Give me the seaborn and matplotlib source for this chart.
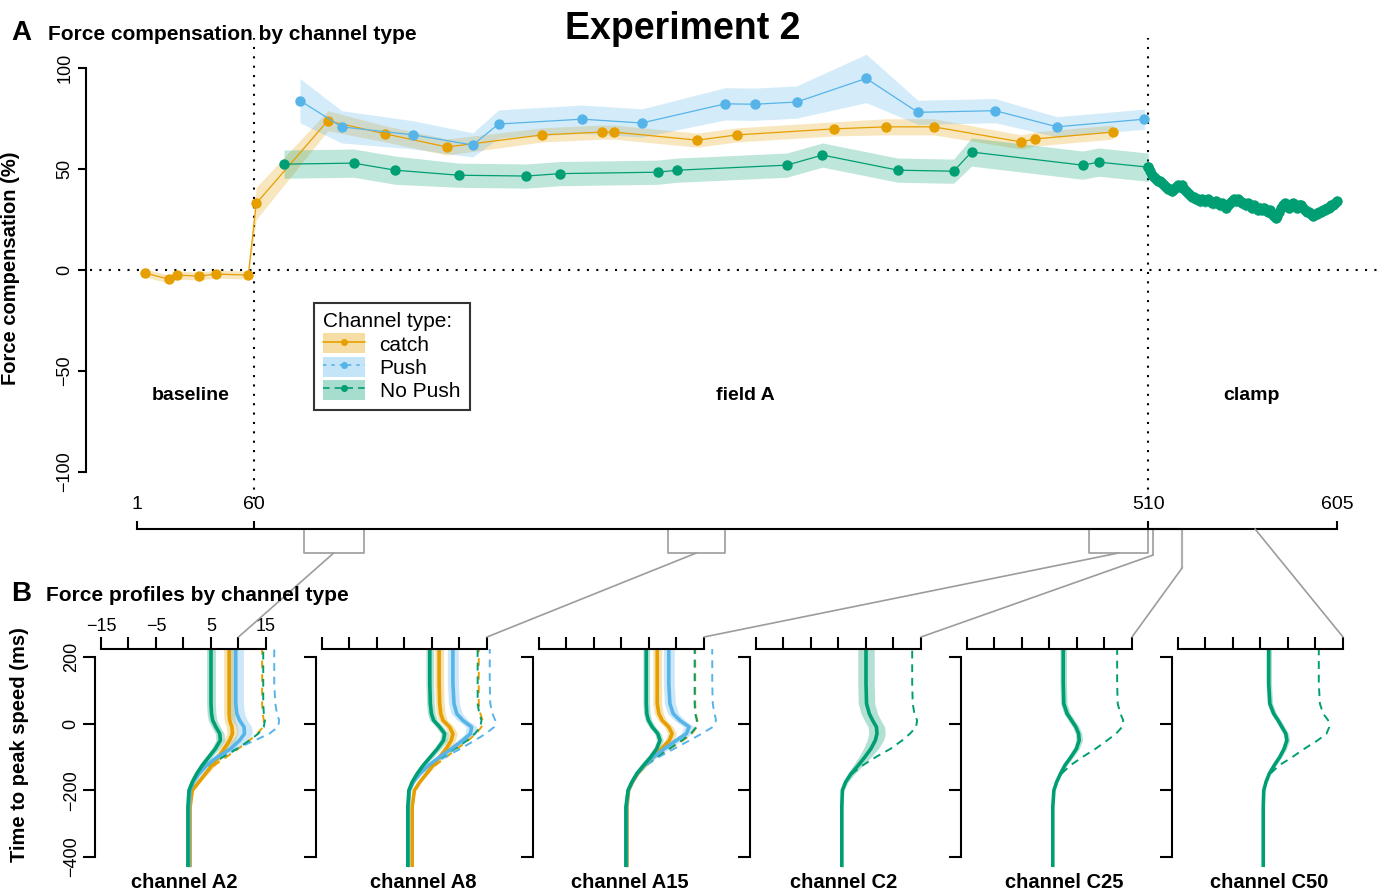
import numpy as np
import seaborn as sns
import matplotlib.pyplot as plt
from matplotlib.lines import Line2D
from matplotlib.patches import Patch, ConnectionPatch
import matplotlib.transforms as mtransforms

# ---------------- Panel A data: force compensation (%) per channel trial ----------------
catch_trial = [5, 17, 21, 32, 41, 57, 61, 97, 126, 157, 205, 235, 241, 283, 303, 352, 378, 402, 446, 453, 492]
catch_fc = [-1.5, -4.5, -2.5, -3, -2, -2.5, 33, 74, 67.5, 61, 67, 68.4, 68.4, 64.4, 67, 70, 71, 71, 63.5, 65, 68.4]
catch_ci = [2, 2, 2, 2, 2, 2, 8, 5, 4, 4, 3.5, 3.5, 3.5, 3.5, 3.5, 3.5, 4, 4, 3.5, 3.5, 3.5]

push_trial = [83, 104, 140, 170, 183, 225, 255, 297, 312, 333, 368, 394, 433, 464, 508]
push_fc = [84, 71, 67, 62, 72.4, 74.8, 72.9, 82.4, 82.2, 83.3, 95, 78.2, 79, 71, 74.8]
push_ci = [11, 8, 7, 6, 7, 7, 7, 8, 8, 8, 12, 6, 6, 5, 5]

nopush_trial = [75, 110, 131, 163, 197, 214, 263, 273, 328, 346, 384, 412, 421, 477, 485, 510]
nopush_fc = [52.5, 53, 49.5, 47, 46.6, 47.8, 48.5, 49.5, 52, 57, 49.5, 49, 58.5, 52, 53.5, 51]
nopush_ci = [7, 7, 7, 6, 6, 6, 6, 6, 6, 6, 6, 6, 7, 7, 7, 7]

# clamp phase, trials 510..605 (No Push channels on every trial)
clamp_trial = np.arange(510, 606)
clamp_fc = [51, 49, 47, 46, 45, 44, 44, 43, 42, 41, 40,
            40, 39, 40, 41, 42, 41, 42, 40, 39, 38,
            37, 36, 36, 35, 35, 34, 35, 34, 34, 35,
            34, 33, 33, 34, 33, 32, 33, 32, 31, 32,
            33, 34, 35, 34, 35, 34, 33, 33, 32, 33,
            32, 31, 32, 31, 30, 31, 30, 31, 30, 29,
            30, 28, 27, 26, 27, 29, 31, 32, 33, 32,
            31, 32, 33, 32, 31, 32, 32, 31, 30, 29,
            29, 28, 27, 28, 28, 29, 29, 30, 30, 31,
            31, 32, 32, 33, 34]
clamp_ci = 3

phase_ticks = [1, 60, 510, 605]

# ---------------- Panel B data: force profiles (x = force, y = time to peak speed) ----------------
profile_t = [-430, -250, -200, -175, -150, -125, -100, -75, -50, -30, -10, 10, 30, 60, 120, 224]
# relative size of the shaded band along the movement
band_shape = [0.15, 0.15, 0.2, 0.3, 0.45, 0.6, 0.75, 0.9, 1, 1, 1, 1, 1, 1, 1, 1]

a2_catch = [1.2, 1.2, 1.6, 2.8, 4.0, 5.2, 6.4, 7.4, 8.4, 8.9, 8.8, 8.4, 8.3, 8.3, 8.3, 8.3]
a2_push = [1.0, 1.0, 1.2, 1.8, 2.8, 4.2, 6.2, 8.6, 10.2, 11.1, 11.0, 10.2, 9.7, 9.5, 9.5, 9.5]
a2_nopush = [0.8, 0.8, 1.0, 1.6, 2.4, 3.4, 4.6, 5.8, 6.7, 6.6, 5.9, 5.3, 5.1, 5.0, 5.0, 5.0]
a2_catch_d = [1.2, 1.2, 1.6, 2.8, 4.0, 5.6, 7.8, 10.0, 12.0, 13.4, 14.5, 14.6, 14.4, 14.3, 14.3, 14.3]
a2_push_d = [1.0, 1.0, 1.2, 1.8, 2.8, 4.4, 6.6, 9.6, 13.0, 15.6, 17.2, 17.4, 17.0, 16.7, 16.5, 16.5]
a2_nopush_d = [0.8, 0.8, 1.0, 1.6, 2.4, 4.6, 7.2, 9.8, 12.0, 13.6, 14.6, 14.8, 14.6, 14.5, 14.5, 14.5]

a8_catch = [1.4, 1.4, 1.8, 2.8, 4.0, 5.2, 6.4, 7.6, 8.5, 8.8, 8.2, 7.0, 6.6, 6.4, 6.3, 6.3]
a8_push = [0.7, 0.7, 0.9, 1.6, 2.8, 4.4, 6.4, 8.6, 10.6, 12.0, 12.2, 10.6, 9.5, 9.0, 8.8, 8.8]
a8_nopush = [0.6, 0.6, 0.8, 1.4, 2.3, 3.4, 4.7, 6.0, 7.1, 7.3, 6.4, 5.3, 4.9, 4.7, 4.6, 4.6]
a8_catch_d = [1.4, 1.4, 1.8, 2.8, 4.0, 5.6, 7.6, 9.6, 11.6, 13.0, 14.0, 14.2, 13.8, 13.5, 13.5, 13.5]
a8_push_d = [0.7, 0.7, 0.9, 1.6, 2.8, 4.8, 7.4, 10.2, 12.8, 14.8, 16.3, 16.5, 16.0, 15.6, 15.5, 15.5]
a8_nopush_d = [0.6, 0.6, 0.8, 1.4, 2.3, 4.4, 6.8, 9.2, 11.4, 12.8, 13.8, 14.0, 13.6, 13.3, 13.3, 13.3]

a15_catch = [1.0, 1.0, 1.3, 2.0, 2.9, 4.2, 5.7, 7.3, 8.7, 9.2, 8.6, 7.4, 6.8, 6.5, 6.5, 6.5]
a15_push = [0.9, 0.9, 1.2, 1.9, 2.8, 4.1, 5.8, 7.8, 10.0, 11.8, 12.3, 10.6, 9.4, 8.8, 8.6, 8.6]
a15_nopush = [0.8, 0.8, 1.2, 1.9, 2.8, 4.0, 5.3, 6.4, 7.0, 6.6, 5.6, 4.9, 4.6, 4.5, 4.5, 4.5]
a15_catch_d = [1.0, 1.0, 1.3, 2.0, 2.9, 4.4, 6.4, 8.8, 11.2, 12.8, 13.7, 13.8, 13.5, 13.4, 13.4, 13.4]
a15_push_d = [0.9, 0.9, 1.2, 1.9, 2.8, 4.5, 6.8, 9.6, 12.4, 14.6, 16.6, 17.2, 16.9, 16.6, 16.5, 16.5]
a15_nopush_d = [0.8, 0.8, 1.2, 1.9, 2.8, 4.3, 6.3, 8.7, 11.0, 12.6, 13.6, 13.7, 13.4, 13.3, 13.3, 13.3]

c2_nopush = [0.6, 0.6, 0.7, 1.3, 2.3, 3.6, 4.8, 5.9, 6.7, 7.0, 6.9, 6.2, 5.6, 5.1, 5.0, 5.0]
c2_nopush_d = [0.6, 0.6, 0.7, 1.3, 2.5, 4.4, 6.8, 9.5, 11.6, 13.0, 14.1, 14.3, 13.8, 13.5, 13.4, 13.4]
c25_nopush = [0.6, 0.6, 0.8, 1.3, 2.0, 2.8, 3.9, 4.9, 5.4, 5.3, 4.8, 4.0, 3.2, 2.6, 2.5, 2.5]
c25_nopush_d = [0.6, 0.6, 0.8, 1.3, 2.2, 3.8, 6.0, 8.4, 10.5, 12.1, 13.2, 13.4, 12.9, 12.4, 12.3, 12.3]
c50_nopush = [0.5, 0.5, 0.6, 1.0, 1.6, 2.5, 3.5, 4.3, 4.8, 4.6, 3.9, 3.2, 2.4, 1.7, 1.5, 1.5]
c50_nopush_d = [0.5, 0.5, 0.6, 1.0, 1.8, 3.4, 5.8, 8.0, 10.4, 12.0, 12.5, 12.3, 11.4, 10.8, 10.6, 10.6]

# half width of the shaded band per profile: catch, Push, No Push
a2_band = [1.0, 1.4, 0.8]
a8_band = [0.8, 1.0, 0.7]
a15_band = [0.8, 1.0, 0.6]
c_band = [1.5, 0.6, 0.5]

panel_titles = ['channel A2', 'channel A8', 'channel A15', 'channel C2', 'channel C25', 'channel C50']

# trial windows shown in panel B (brackets under the trial axis)
a_windows = [(85, 115), (268, 297), (480, 510)]

colors = {'catch': '#E69F00', 'Push': '#56B4E9', 'No Push': '#009E73'}
GREY = '#9c9c9c'

# ---------------- figure ----------------
sns.set_style('ticks')
plt.rcParams['font.family'] = ['Liberation Sans', 'DejaVu Sans']
plt.rcParams.update({'axes.linewidth': 1.5, 'text.color': 'black', 'axes.labelcolor': 'black',
                     'xtick.color': 'black', 'ytick.color': 'black', 'axes.edgecolor': 'black'})

W, H = 1383, 893
fig = plt.figure(figsize=(W / 100, H / 100), dpi=100)


def px_axes(left, top, right, bottom):
    return fig.add_axes([left / W, 1 - bottom / H, (right - left) / W, (bottom - top) / H])


# ---- panel A ----
axA = px_axes(86, 28, 1383, 529)
axA.set_xlim(-24.67, 628.1)
axA.set_ylim(-128.4, 120.0)

for tr, fc, ci, key in [(catch_trial, catch_fc, catch_ci, 'catch'),
                        (push_trial, push_fc, push_ci, 'Push'),
                        (nopush_trial, nopush_fc, nopush_ci, 'No Push')]:
    lo = np.array(fc) - np.array(ci)
    hi = np.array(fc) + np.array(ci)
    axA.fill_between(tr, lo, hi, color=colors[key], alpha=0.25, lw=0)
axA.fill_between(clamp_trial, np.array(clamp_fc) - clamp_ci, np.array(clamp_fc) + clamp_ci,
                 color=colors['No Push'], alpha=0.25, lw=0)

for tr, fc, key in [(catch_trial, catch_fc, 'catch'), (push_trial, push_fc, 'Push'),
                    (nopush_trial, nopush_fc, 'No Push'), (clamp_trial, clamp_fc, 'No Push')]:
    sns.lineplot(x=tr, y=fc, ax=axA, color=colors[key], marker='o', markersize=7.5,
                 markeredgewidth=0, linewidth=0.9, errorbar=None)

axA.axhline(0, xmin=0.003, xmax=1, color='black', ls=(0, (1, 3.5)), lw=1.5, zorder=0)
for tr in [60, 510]:
    axA.axvline(tr, ymin=0.06, ymax=0.98, color='black', ls=(0, (1, 3.5)), lw=1.5, zorder=0)

sns.despine(ax=axA)
axA.spines['left'].set_bounds(-100, 100)
axA.spines['bottom'].set_bounds(1, 605)
axA.set_yticks([-100, -50, 0, 50, 100])
axA.set_yticklabels(['\u2212100', '\u221250', '0', '50', '100'])
axA.tick_params(axis='y', length=6, width=1.5, labelsize=13, pad=3)
for lab in axA.get_yticklabels():
    lab.set_rotation(90)
    lab.set_va('center')
axA.set_xticks(phase_ticks)
axA.set_xticklabels([str(t) for t in phase_ticks])
axA.tick_params(axis='x', direction='in', length=6, width=1.5, labelsize=14, pad=-24)
axA.set_ylabel('Force compensation (%)', fontsize=14.5, fontweight='bold')
axA.yaxis.set_label_coords(-0.051, 0.52)

for txt, tr in [('baseline', 28), ('field A', 307), ('clamp', 562)]:
    axA.text(tr, -62, txt, ha='center', va='center', fontsize=14, fontweight='bold')

handles = []
for key, ls in [('catch', '-'), ('Push', (0, (2, 3))), ('No Push', (0, (4, 3)))]:
    handles.append((Patch(facecolor=colors[key], alpha=0.35, lw=0),
                    Line2D([], [], color=colors[key], ls=ls, lw=1.2, marker='o', markersize=4)))
leg = fig.legend(handles, ['catch', 'Push', 'No Push'], loc='upper left',
                 bbox_to_anchor=(314 / W, 1 - 303 / H), title='Channel type:', fontsize=15,
                 title_fontsize=15, frameon=True, fancybox=False, edgecolor='black',
                 borderaxespad=0, alignment='left', labelspacing=0.1, handlelength=2.0,
                 handleheight=1.1, handletextpad=0.7, borderpad=0.45)
leg.get_frame().set_linewidth(1.5)

# ---- panel B ----
XL, XR = -16.09, 20.0
panel_x0 = [101, 322, 539, 756, 967, 1178]
title_x = [0.2, 3.4, 1.5, 1.0, 2.6, 1.5]

a_sets = [
    ([a2_catch, a2_push, a2_nopush], [a2_catch_d, a2_push_d, a2_nopush_d], a2_band),
    ([a8_catch, a8_push, a8_nopush], [a8_catch_d, a8_push_d, a8_nopush_d], a8_band),
    ([a15_catch, a15_push, a15_nopush], [a15_catch_d, a15_push_d, a15_nopush_d], a15_band),
]
c_sets = [(c2_nopush, c2_nopush_d), (c25_nopush, c25_nopush_d), (c50_nopush, c50_nopush_d)]

b_axes = []
for i, x0 in enumerate(panel_x0):
    left = x0 - 6
    ax = px_axes(left, 649, left + (XR - XL) * 5.5, 867)
    ax.set_xlim(XL, XR)
    ax.set_ylim(-430, 224)
    ax.set_facecolor('none')
    b_axes.append(ax)

    if i < 3:
        solids, dashed, band = a_sets[i]
        keys = ['catch', 'Push', 'No Push']
    else:
        solids, dashed, band = [c_sets[i - 3][0]], [c_sets[i - 3][1]], [c_band[i - 3]]
        keys = ['No Push']

    for xs, hw, key in zip(solids, band, keys):
        half = hw * np.array(band_shape)
        ax.fill_betweenx(profile_t, np.array(xs) - half, np.array(xs) + half,
                         color=colors[key], alpha=0.3, lw=0)
    for xs, key in zip(dashed, keys):
        sns.lineplot(x=xs, y=profile_t, orient='y', ax=ax, color=colors[key],
                     linewidth=1.4, linestyle=(0, (4, 3)), errorbar=None)
    for xs, key in zip(solids, keys):
        sns.lineplot(x=xs, y=profile_t, orient='y', ax=ax, color=colors[key],
                     linewidth=2.6, errorbar=None)

    for s in ['bottom', 'right']:
        ax.spines[s].set_visible(False)
    ax.spines['top'].set_bounds(-15, 15)
    ax.spines['left'].set_bounds(-400, 200)
    ax.xaxis.tick_top()
    ax.set_xticks([-15, -10, -5, 0, 5, 10, 15])
    ax.set_yticks([-400, -200, 0, 200])
    ax.set_xlabel('')
    ax.set_ylabel('')
    ax.tick_params(axis='x', length=9, width=1.5, labelsize=13, pad=1)
    ax.tick_params(axis='y', length=9, width=1.5, labelsize=13, pad=2)
    if i == 0:
        ax.set_xticklabels(['\u221215', '', '\u22125', '', '5', '', '15'])
        ax.set_yticklabels(['\u2212400', '\u2212200', '0', '200'])
        for lab in ax.get_yticklabels():
            lab.set_rotation(90)
            lab.set_va('center')
    else:
        ax.tick_params(labeltop=False, labelleft=False)
    trans = mtransforms.blended_transform_factory(ax.transData, ax.transAxes)
    ax.text(title_x[i], -0.073, panel_titles[i], transform=trans, ha='center', va='center',
            fontsize=14.5, fontweight='bold')

# ---- brackets and connectors between the trial axis and panel B ----
y_axis, y_brk = -128.4, -140.3
link_kw = dict(color=GREY, lw=1.2)
for (a, b), ax, xend in zip(a_windows, b_axes[:3], [10, 15, 15]):
    axA.plot([a, a, b, b], [y_axis, y_brk, y_brk, y_axis], clip_on=False, **link_kw)
    fig.add_artist(ConnectionPatch(xyA=((a + b) / 2, y_brk), coordsA=axA.transData,
                                   xyB=(xend, 260), coordsB=ax.transData, **link_kw))
# C2
axA.plot([512.4, 512.4], [y_axis, -141.3], clip_on=False, **link_kw)
fig.add_artist(ConnectionPatch(xyA=(512.4, -141.3), coordsA=axA.transData,
                               xyB=(15, 260), coordsB=b_axes[3].transData, **link_kw))
# C25
axA.plot([395, 527, 527], [y_axis, y_axis, -147.7], clip_on=False, color=GREY, lw=1.6, alpha=0.8)
fig.add_artist(ConnectionPatch(xyA=(527, -147.7), coordsA=axA.transData,
                               xyB=(15, 260), coordsB=b_axes[4].transData, **link_kw))
# C50
fig.add_artist(ConnectionPatch(xyA=(563.7, y_axis), coordsA=axA.transData,
                               xyB=(15, 260), coordsB=b_axes[5].transData, **link_kw))

# ---- headings ----
fig.text(683 / W, 1 - 39 / H, 'Experiment 2', ha='center', va='baseline', fontsize=27, fontweight='bold')
fig.text(11 / W, 1 - 40 / H, 'A', ha='left', va='baseline', fontsize=20, fontweight='bold')
fig.text(48 / W, 1 - 40 / H, 'Force compensation by channel type', ha='left', va='baseline',
         fontsize=15, fontweight='bold')
fig.text(11 / W, 1 - 601 / H, 'B', ha='left', va='baseline', fontsize=20, fontweight='bold')
fig.text(46 / W, 1 - 601 / H, 'Force profiles by channel type', ha='left', va='baseline',
         fontsize=15, fontweight='bold')
fig.text(20 / W, 1 - 745 / H, 'Time to peak speed (ms)', rotation=90, ha='center', va='center',
         fontsize=14.5, fontweight='bold')

fig.savefig('out.png', dpi=100)
